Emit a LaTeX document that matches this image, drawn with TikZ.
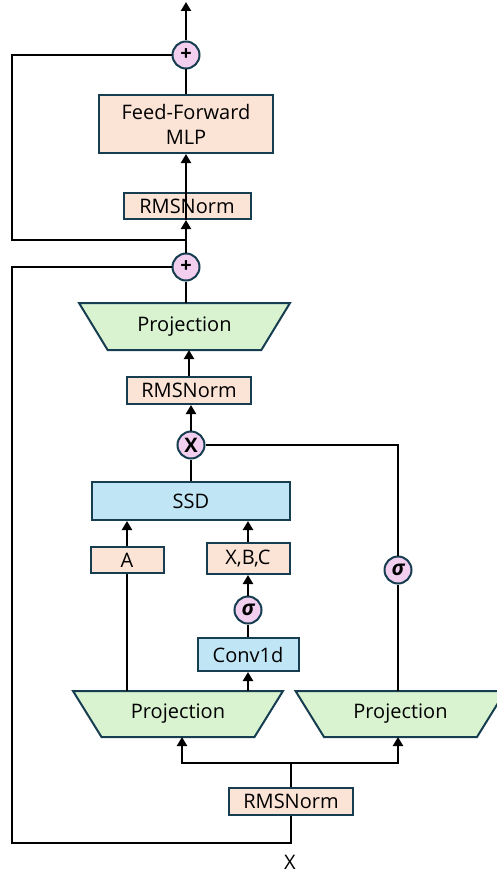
\documentclass[tikz,border=0pt]{standalone}
\usepackage{fontspec}
\setmainfont{Open Sans}
\usetikzlibrary{shapes.geometric,arrows.meta,calc}
\definecolor{bord}{HTML}{163E50}
\definecolor{peachc}{HTML}{FBE3D6}
\definecolor{greenc}{HTML}{D9F2D0}
\definecolor{bluec}{HTML}{C0E6F5}
\definecolor{pinkc}{HTML}{F2CEEF}
\newcommand\fsz{\fontsize{20}{25}\selectfont}
\tikzset{
 ln/.style={line width=2.2pt, black},
 arr/.style={ln, -{Triangle[width=10pt,length=9pt]}},
 bx/.style={draw=bord, line width=2pt, inner sep=0pt, font=\fsz, align=center},
 peach/.style={bx, fill=peachc},
 bluebox/.style={bx, fill=bluec},
 op/.style={circle, draw=bord, line width=2pt, fill=pinkc, minimum size=27pt, inner sep=0pt},
 proj/.style={trapezium, shape border rotate=180, trapezium left angle=48, trapezium right angle=48,
   trapezium stretches=true, draw=bord, fill=greenc, line width=2pt,
   minimum width=210pt, minimum height=46pt, inner sep=0pt, font=\fsz}
}
\begin{document}
\begin{tikzpicture}[x=1pt,y=-1pt]
\useasboundingbox (0,0) rectangle (496,875);
% nodes
\node[op] (plus1) at (186,55) {\fontsize{20}{20}\selectfont\bfseries +};
\node[peach, minimum width=174pt, minimum height=58pt] (ff) at (186,124) {Feed-Forward\\MLP};
\node[peach, minimum width=127pt, minimum height=26pt] (rms1) at (187,206) {RMSNorm};
\node[op] (plus2) at (186,267) {\fontsize{20}{20}\selectfont\bfseries +};
\node[proj, minimum width=211pt, minimum height=47pt] (proj0) at (184.5,326.5) {Projection};
\node[peach, minimum width=124pt, minimum height=27pt] (rms2) at (189,390.5) {RMSNorm};
\node[op] (mul) at (191,445) {\fontsize{20}{20}\selectfont\bfseries X};
\node[bluebox, minimum width=198pt, minimum height=38pt] (ssd) at (191,501) {SSD};
\node[peach, minimum width=73pt, minimum height=26pt] (abox) at (127,560) {A};
\node[peach, minimum width=83pt, minimum height=31pt] (xbc) at (248,558.5) {X,B,C};
\node[op] (sig1) at (248,610) {\fontsize{21}{21}\selectfont\bfseries\itshape σ};
\node[bluebox, minimum width=101pt, minimum height=33pt] (conv) at (248,654.5) {Conv1d};
\node[proj] (proj1) at (178,714) {Projection};
\node[proj] (proj2) at (400.5,714) {Projection};
\node[op] (sig2) at (398,570) {\fontsize{21}{21}\selectfont\bfseries\itshape σ};
\node[peach, minimum width=124pt, minimum height=27pt] (rms3) at (291,801.5) {RMSNorm};
\node[font=\fsz, inner sep=0pt] (xin) at (290,862) {X};
% helper coordinates
\coordinate (out) at (186,2);
\coordinate (j1) at (186,240);
\coordinate (l1) at (12,150);
\coordinate (l2) at (12,560);
\coordinate (b2) at (291,843);
\coordinate (split) at (291,763);
\coordinate (p0top) at ([yshift=23.5pt]proj0.center);
\coordinate (p0bot) at ([yshift=-23.5pt]proj0.center);
\coordinate (p1top) at ([yshift=23pt]proj1.center);
\coordinate (p1bot) at ([yshift=-23pt]proj1.center);
\coordinate (p2top) at ([yshift=23pt]proj2.center);
\coordinate (p2bot) at ([yshift=-23pt]proj2.center);
\coordinate (br1) at (182,763);
\coordinate (br2) at (398,763);
% connectors
\draw[arr] (plus1.north) -- (out);
\draw[ln] (plus1.south |- ff.north) -- (plus1.south);
\draw[arr] (rms1.south -| ff.south) -- (ff.south);
\draw[arr] (plus2.north) -- (plus2.north |- rms1.south);
\draw[ln] (j1) -| (l1) |- (plus1.west);
\draw[ln] (plus2.south |- p0top) -- (plus2.south);
\draw[arr] (rms2.north) -- (rms2.north |- p0bot);
\draw[arr] (mul.north) -- (mul.north |- rms2.south);
\draw[ln] (ssd.north -| mul.south) -- (mul.south);
\draw[arr] (abox.north) -- (abox.north |- ssd.south);
\draw[arr] (xbc.north) -- (xbc.north |- ssd.south);
\draw[arr] (sig1.north) -- (sig1.north |- xbc.south);
\draw[ln] (sig1.south |- conv.north) -- (sig1.south);
\draw[arr] (conv.south |- p1top) -- (conv.south);
\draw[ln] (abox.south |- p1top) -- (abox.south);
\draw[ln] (sig2.south |- p2top) -- (sig2.south);
\draw[ln] (sig2.north) |- (mul.east);
\draw[ln] (rms3.north) -- (split);
\draw[arr] (split) -- (br1) -- (br1 |- p1bot);
\draw[arr] (split) -- (br2) -- (br2 |- p2bot);
\draw[ln] (rms3.south) -- (b2) -| (l2) |- (plus2.west);
\end{tikzpicture}
\end{document}
